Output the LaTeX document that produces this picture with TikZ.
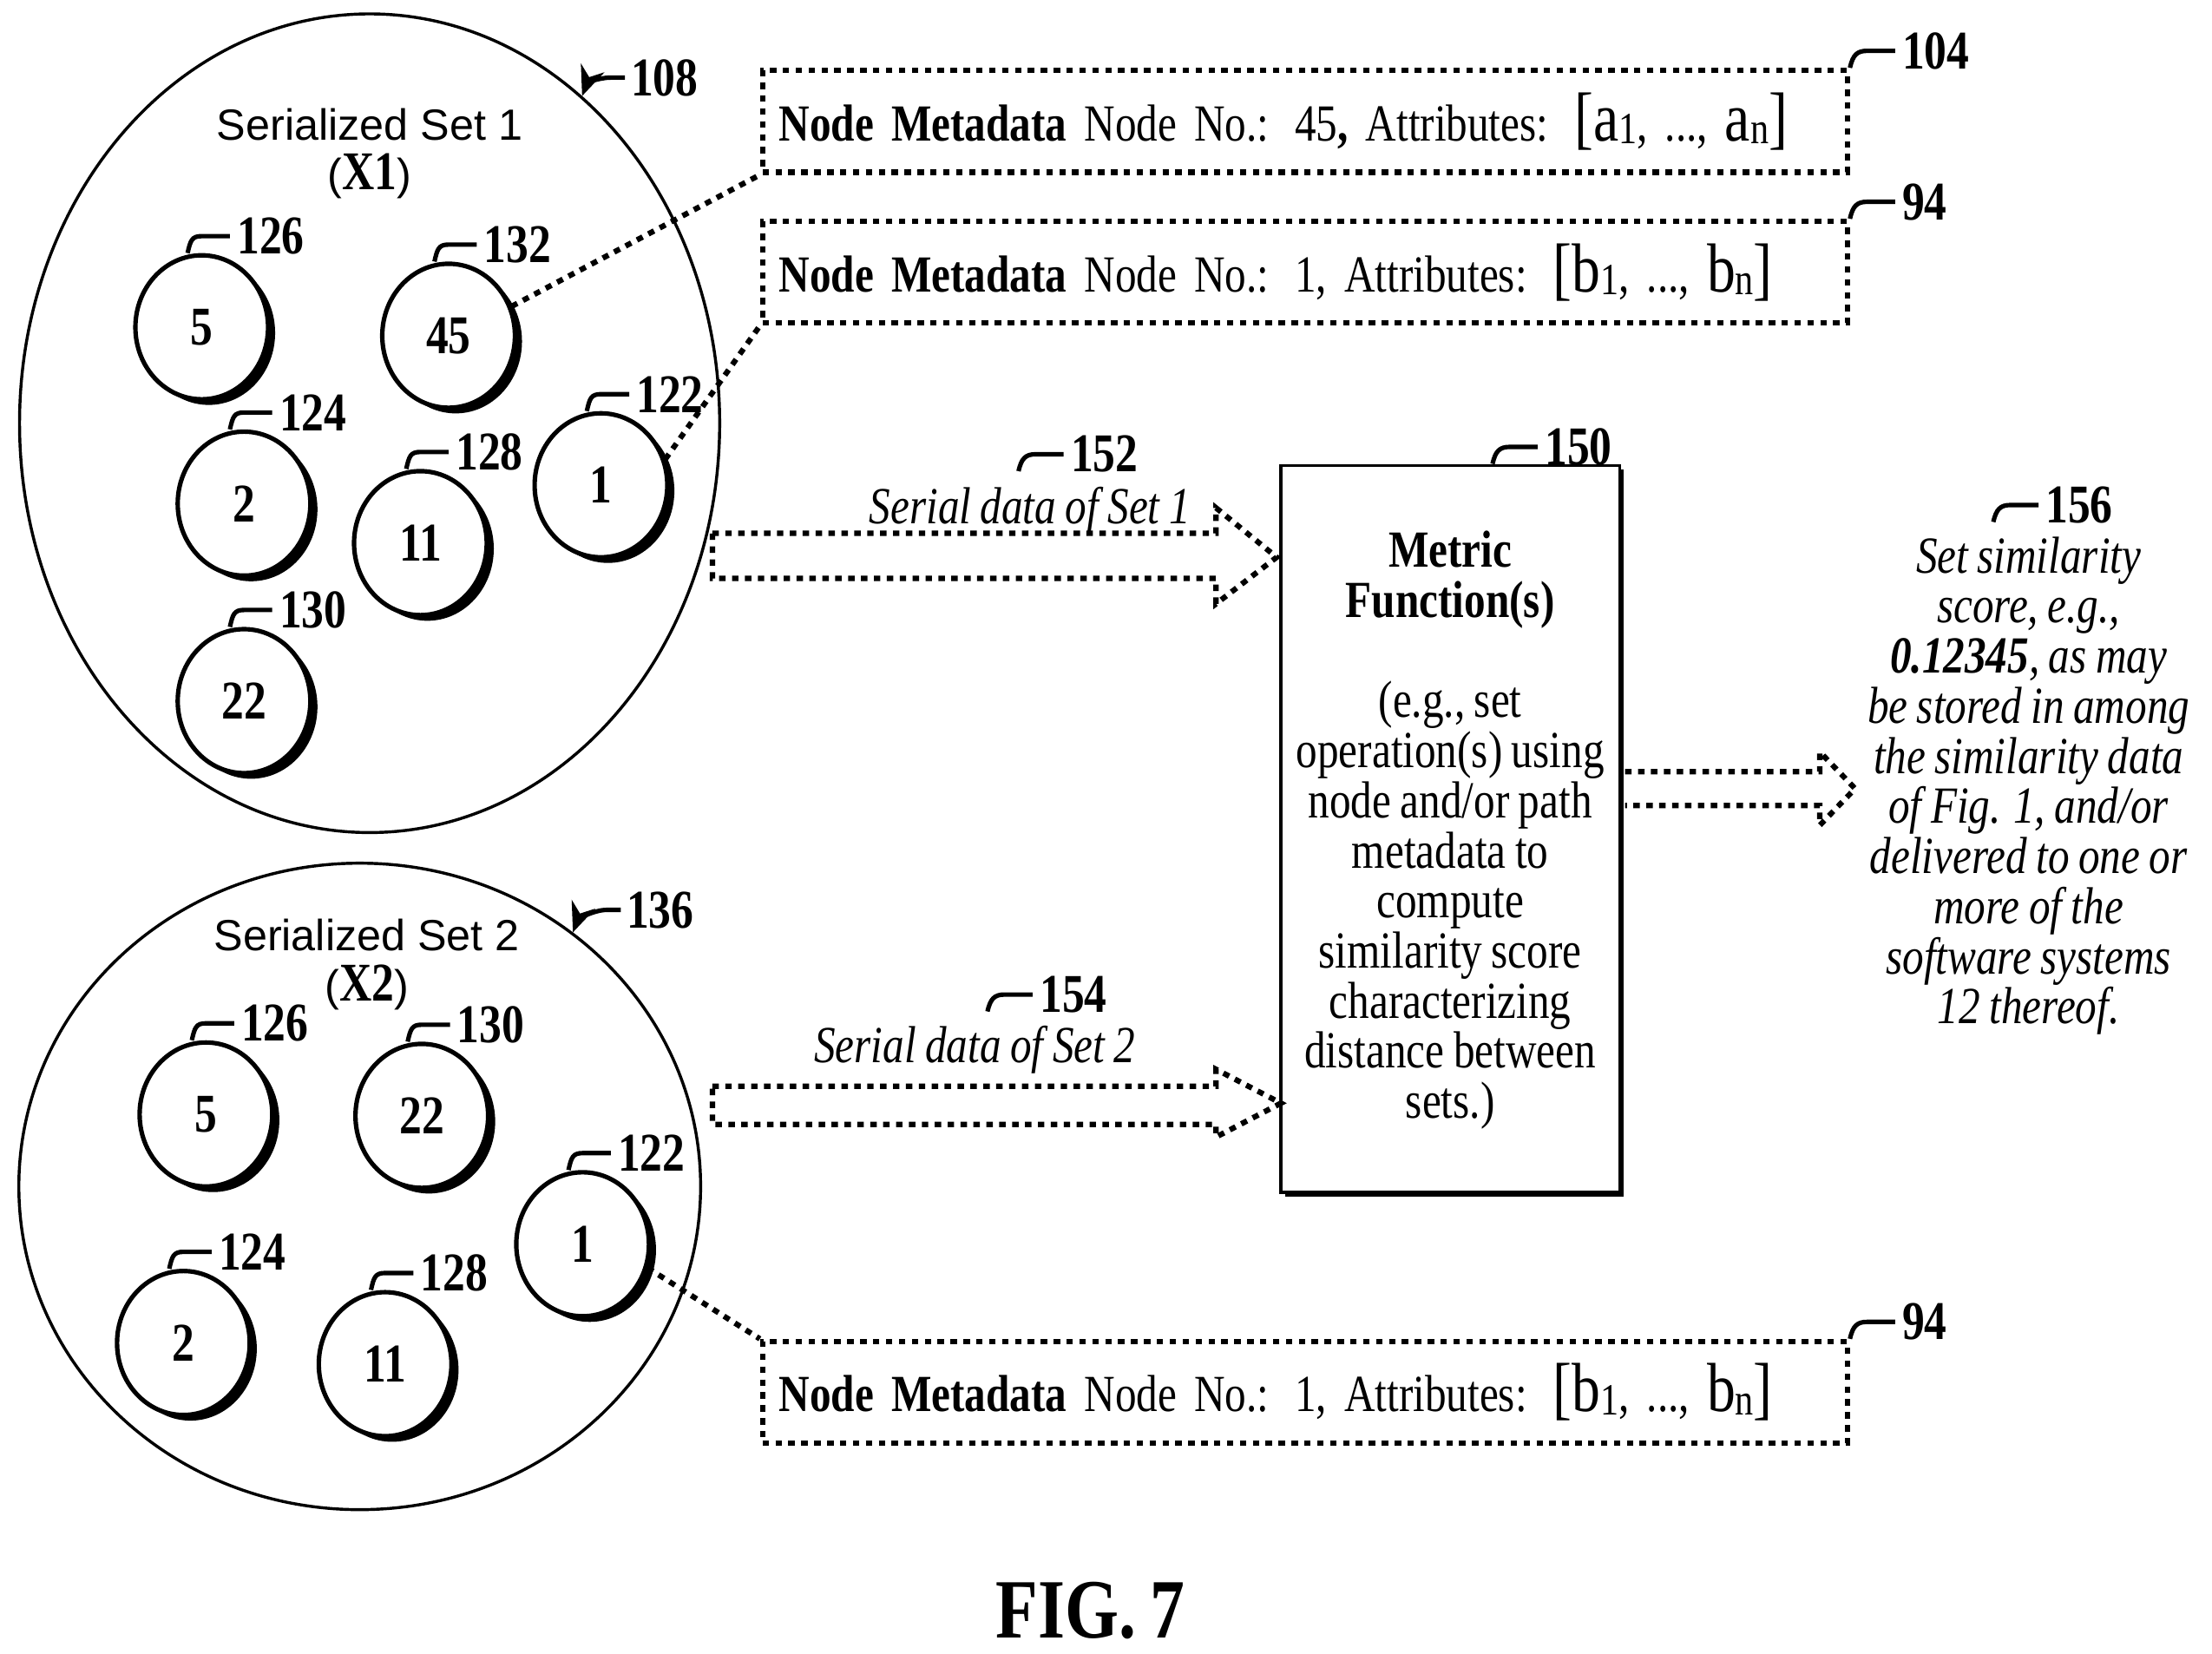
\documentclass[tikz,border=0pt]{standalone}
\usepackage{fontspec}
\setmainfont[FakeStretch=0.82,WordSpace=0.85]{Liberation Serif}
\setsansfont{Liberation Sans}
\usetikzlibrary{shapes.geometric,shadows,arrows.meta}

\newcommand\attr[1]{{\fontsize{14}{14}\selectfont #1}}
\newcommand\sub[1]{\raisebox{-0.6pt}{\fontsize{9}{9}\selectfont #1}}

\tikzset{
  ball/.style={ellipse, draw, line width=0.9pt, fill=white, minimum width=0.94cm, minimum height=1.02cm,
    font=\fontsize{11}{11}\selectfont\bfseries,
    drop shadow={shadow xshift=0.05cm, shadow yshift=-0.04cm, fill=black, opacity=1}},
  setovl/.style={ellipse, draw, line width=0.6pt},
  mdbox/.style={rectangle, draw, line width=1.1pt, dash pattern=on 1.3pt off 1.3pt,
    minimum width=7.56cm, minimum height=0.72cm, text width=7.45cm, align=left,
    font=\fontsize{10.5}{11}\selectfont},
  dots/.style={line width=1.1pt, dash pattern=on 1.3pt off 1.3pt},
  hook/.style={line width=0.9pt},
  reflbl/.style={anchor=west, inner sep=1pt, font=\fontsize{11}{11}\selectfont\bfseries},
}

% hook from a point up to a reference numeral
\newcommand\hooklbl[4]{\draw[hook] (#1) .. controls +(2,-9) and +(-7,0) .. ++(#4,-12) -- ++(20,0) node[reflbl] (#2) {#3};}

\begin{document}
\begin{tikzpicture}[x=0.01cm, y=-0.01cm]
    \useasboundingbox (0,0) rectangle (1568,1172);

    % serialized sets
    \node[setovl, minimum width=4.96cm, minimum height=5.8cm] (set1) at (262,300) {};
    \node[setovl, minimum width=4.83cm, minimum height=4.58cm] (set2) at (255,841) {};
    \node[font=\fontsize{8.8}{9}\sffamily] (set1t) at (262,88) {Serialized Set 1};
    \node[font=\fontsize{8.8}{9}\sffamily] (set1x) at (262,125) {(\textrm{\fontsize{11}{11}\selectfont\bfseries X1})};
    \node[font=\fontsize{8.8}{9}\sffamily] (set2t) at (260,663) {Serialized Set 2};
    \node[font=\fontsize{8.8}{9}\sffamily] (set2x) at (260,700) {(\textrm{\fontsize{11}{11}\selectfont\bfseries X2})};

    \node[reflbl] (r108) at (443,55) {108};
    \node[reflbl] (r136) at (440,645) {136};
    \draw[hook, -{Stealth[length=6pt,width=5pt]}] (r108.west) -- ++(-10,0) .. controls +(-10,0) and +(3,-8) .. (set1.57);
    \draw[hook, -{Stealth[length=6pt,width=5pt]}] (r136.west) -- ++(-10,0) .. controls +(-10,0) and +(3,-8) .. (set2.50);

    % nodes of set 1
    \node[ball] (s1c5) at (143,232) {5};
    \node[ball] (s1c45) at (318,238) {45};
    \node[ball] (s1c2) at (173,357) {2};
    \node[ball] (s1c11) at (298,385) {11};
    \node[ball] (s1c1) at (426,344) {1};
    \node[ball] (s1c22) at (173,497) {22};
    % nodes of set 2
    \node[ball] (s2c5) at (146,790) {5};
    \node[ball] (s2c22) at (299,791) {22};
    \node[ball] (s2c1) at (413,882) {1};
    \node[ball] (s2c2) at (130,952) {2};
    \node[ball] (s2c11) at (273,967) {11};

    \hooklbl{[xshift=-0.1cm]s1c5.north}{r126a}{126}{10}
    \hooklbl{[xshift=-0.1cm]s1c45.north}{r132}{132}{10}
    \hooklbl{[xshift=-0.1cm]s1c2.north}{r124a}{124}{10}
    \hooklbl{[xshift=-0.1cm]s1c11.north}{r128a}{128}{10}
    \hooklbl{[xshift=-0.1cm]s1c1.north}{r122a}{122}{10}
    \hooklbl{[xshift=-0.1cm]s1c22.north}{r130a}{130}{10}
    \hooklbl{[xshift=-0.1cm]s2c5.north}{r126b}{126}{10}
    \hooklbl{[xshift=-0.1cm]s2c22.north}{r130b}{130}{10}
    \hooklbl{[xshift=-0.1cm]s2c1.north}{r122b}{122}{10}
    \hooklbl{[xshift=-0.1cm]s2c2.north}{r124b}{124}{10}
    \hooklbl{[xshift=-0.1cm]s2c11.north}{r128b}{128}{10}

    % node metadata
    \node[mdbox] (md104) at (925,86) {\textbf{Node Metadata} Node No.: 45\textbf{,} Attributes: \attr{[a}\sub{1}, ..., \attr{a}\sub{n}\attr{]}};
    \node[mdbox] (md94a) at (925,193) {\textbf{Node Metadata} Node No.: 1, Attributes: \attr{[b}\sub{1}, ..., \attr{b}\sub{n}\attr{]}};
    \node[mdbox] (md94b) at (925,987) {\textbf{Node Metadata} Node No.: 1, Attributes: \attr{[b}\sub{1}, ..., \attr{b}\sub{n}\attr{]}};
    \hooklbl{md104.north east}{r104}{104}{12}
    \hooklbl{md94a.north east}{r94a}{94}{12}
    \hooklbl{md94b.north east}{r94b}{94}{12}

    \draw[dots] (s1c45.25) -- (md104.south west);
    \draw[dots] (s1c1.22) -- (md94a.south west);
    \draw[dots] (s2c1.-20) -- (md94b.north west);

    % metric function
    \node[rectangle, draw, line width=0.6pt, fill=white, minimum width=2.4cm, minimum height=5.15cm,
      drop shadow={shadow xshift=0.03cm, shadow yshift=-0.03cm, fill=black, opacity=1}] (mf) at (1028,587.5) {};
    \node[align=center, font=\fontsize{10.5}{10.1}\selectfont, anchor=north] (mft) at (1028,364)
      {\textbf{Metric}\\\textbf{Function(s)}\\[10.1pt](e.g., set\\operation(s) using\\node and/or path\\metadata to\\compute\\similarity score\\characterizing\\distance between\\sets.)};
    \hooklbl{[xshift=0.3cm]mf.north}{r150}{150}{12}

    % serial data arrows
    \draw[dots] (505,378) -- (862,378) -- (862,360) -- (905,395) -- (862,428) -- (862,410) -- (505,410) -- cycle;
    \draw[dots] (505,770) -- (862,770) -- (862,758) -- (908,782) -- (862,806) -- (862,797) -- (505,797) -- cycle;
    \node[font=\fontsize{10.5}{10}\selectfont\itshape] (sd1) at (730,362) {Serial data of Set 1};
    \node[font=\fontsize{10.5}{10}\selectfont\itshape] (sd2) at (691,744) {Serial data of Set 2};
    \coordinate (h152) at (722,334);
    \coordinate (h154) at (700,717);
    \hooklbl{h152}{r152}{152}{12}
    \hooklbl{h154}{r154}{154}{12}

    % output arrow
    \draw[dots] (1152,547) -- (1290,547) -- (1290,533) -- (1315,559) -- (1290,585) -- (1290,571) -- (1152,571);
    \node[align=center, font=\fontsize{10.5}{10.1}\selectfont\itshape, anchor=north] (score) at (1438,368)
      {Set similarity\\score, e.g.,\\\textbf{0.12345}, as may\\be stored in among\\the similarity data\\of Fig. 1, and/or\\delivered to one or\\more of the\\software systems\\12 thereof.};
    \coordinate (h156) at (1413,370);
    \hooklbl{h156}{r156}{156}{12}

    \node[font=\fontsize{17}{17}\selectfont\bfseries] (fig) at (773,1142) {FIG. 7};
\end{tikzpicture}
\end{document}
